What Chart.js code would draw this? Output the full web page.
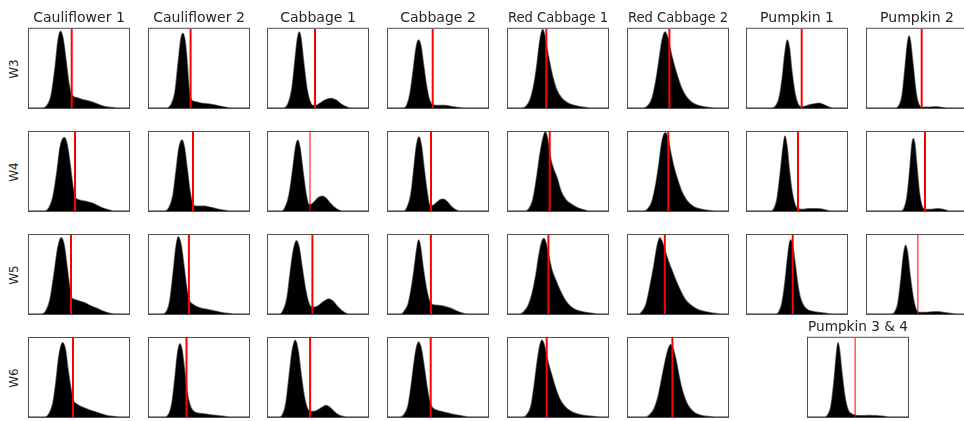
<!DOCTYPE html>
<html>
<head>
<meta charset="utf-8">
<script src="https://cdn.jsdelivr.net/npm/chart.js@4.4.1/dist/chart.umd.min.js"></script>
<style>
  html, body {
    margin: 0;
    padding: 0;
    background: #fff;
    width: 964px;
    height: 421px;
    overflow: hidden;
    position: relative;
    font-family: "DejaVu Sans", sans-serif;
  }
  canvas {
    position: absolute;
  }
  .row-label {
    position: absolute;
    font-size: 12px;
    color: #262626;
    white-space: nowrap;
    transform: translate(-50%, -50%) rotate(-90deg);
  }
</style>
</head>
<body>
<script>
// column titles, row labels and one density curve per panel
// curves are [x, y] pairs, x = position across the panel (0-100), y = height (0-100)

const columnTitles = [
  'Cauliflower 1', 'Cauliflower 2', 'Cabbage 1', 'Cabbage 2',
  'Red Cabbage 1', 'Red Cabbage 2', 'Pumpkin 1', 'Pumpkin 2'
]

const lastPanelTitle = 'Pumpkin 3 & 4'

const rowLabels = ['W3', 'W4', 'W5', 'W6']

const w3Curves = [
  [[0,0],[14,0],[18,3],[22,15],[26,50],[29,85],[31.5,97],[34,88],[37,60],[40,30],[43,16],[48,13],[55,10],[62,8],[68,5],[75,2],[82,0.5],[88,0],[100,0]],
  [[0,0],[18,0],[22,4],[26,20],[29,55],[32,88],[34,94],[36,85],[38,60],[40,25],[42,11],[46,8],[52,6],[60,5],[68,3],[76,1],[82,0],[100,0]],
  [[0,0],[16,0],[20,5],[24,25],[27,60],[29.5,88],[31.3,96],[33,88],[35.5,60],[38.5,28],[41.5,10],[45,3],[48,3],[52,6],[57,10],[63,12],[68,10],[73,5],[78,1.5],[82,0],[100,0]],
  [[0,0],[16,0],[19,4],[22,18],[25,45],[28,75],[30.5,86],[33,78],[35.5,55],[38.5,28],[41.5,10],[45,4],[50,3],[57,3],[63,2],[70,0.5],[75,0],[100,0]],
  [[0,0],[14,0],[18,2],[22,10],[26,30],[29,55],[31,77],[33,93],[34.7,99],[36.5,93],[39,75],[42,55],[45,38],[49,22],[54,12],[60,6],[67,3],[75,1],[82,0],[100,0]],
  [[0,0],[16,0],[20,3],[24,12],[28,35],[31,60],[34,85],[37,96],[40,88],[43,70],[46,55],[50,38],[54,24],[59,13],[65,6],[72,2.5],[80,0.5],[86,0],[100,0]],
  [[0,0],[26,0],[29,3],[32,12],[35,35],[38,70],[40.3,86],[42.5,75],[45,45],[48,18],[51,5],[54,1.5],[58,2],[63,4],[67,5],[72,6],[77,4],[82,1],[86,0],[100,0]],
  [[0,0],[29,0],[32,3],[35,15],[38,50],[40.5,82],[42,91],[43.5,84],[46,55],[49,20],[52,4],[55,1],[62,1],[69,1.5],[75,0.5],[80,0],[100,0]]
]

const w4Curves = [
  [[0,0],[16,0],[20,4],[24,18],[28,50],[31,80],[35.3,93],[38,85],[41,60],[44,30],[46,18],[50,14],[57,12],[63,10],[68,7],[73,4],[78,2],[85,0],[100,0]],
  [[0,0],[16,0],[20,4],[24,20],[27,50],[30,80],[33,90],[35.5,80],[38,55],[41,25],[44,8],[48,6],[55,6],[62,4.5],[68,2.5],[75,1],[80,0],[100,0]],
  [[0,0],[14,0],[17,4],[21,20],[25,55],[27.5,80],[29.8,89.5],[32,80],[35,50],[38,22],[41,8],[44,9],[48,14],[51,17.5],[54.6,18.6],[58,16],[62,10],[66,5],[70,1.5],[74,0],[100,0]],
  [[0,0],[16,0],[19,4],[23,22],[26,55],[28.5,83],[31.1,93.7],[33.5,82],[36,55],[39,25],[42,7],[45,7],[49,11],[52,14],[55.3,14.8],[59,12],[63,6],[67,2],[71,0],[100,0]],
  [[0,0],[17,0],[21,3],[25,15],[29,45],[32,72],[35,92],[37.3,100],[39.5,92],[42,70],[45,55],[49,42],[53,25],[58,14],[63,9],[68,5],[74,2],[82,0],[100,0]],
  [[0,0],[16,0],[20,3],[24,12],[28,35],[31,60],[34,88],[37.3,99],[40,92],[43,72],[46,55],[50,38],[54,24],[59,13],[65,6],[72,2.5],[80,0.5],[86,0],[100,0]],
  [[0,0],[24,0],[27,3],[30,15],[33,45],[36,80],[38,95],[40,82],[42.5,50],[45,25],[48,8],[51,3],[56,2],[62,3],[68,3],[74,2.5],[79,1],[84,0],[100,0]],
  [[0,0],[34,0],[37,3],[40,18],[43,55],[45,85],[46.3,91.5],[47.8,85],[50,55],[52.5,22],[55,6],[58,2],[63,2],[68,2.5],[72,3],[77,1.5],[82,0],[100,0]]
]

const w5Curves = [
  [[0,0],[13,0],[17,4],[21,18],[25,50],[29,85],[32.2,96.5],[35,88],[38,60],[40.5,35],[42,22],[46,18],[51,16],[56,14],[62,10],[68,7],[74,3.5],[80,1],[85,0],[100,0]],
  [[0,0],[14,0],[18,4],[21,18],[24,50],[27,85],[29.2,97.8],[32,88],[35,60],[38,30],[40,18],[44,12],[50,8],[57,6],[64,4],[72,2],[80,0.5],[85,0],[100,0]],
  [[0,0],[12,0],[15,4],[19,20],[22,50],[25,78],[28.4,92.8],[31,85],[34,60],[37,35],[40,17],[43,9],[47,8.5],[51,11],[56,16],[61,19],[65,16],[69,10],[73,5],[77,1.5],[80,0],[100,0]],
  [[0,0],[13,0],[16,3],[20,12],[23,30],[26,55],[28.5,80],[30.6,93.6],[32.5,85],[35,60],[38,35],[41,18],[43,13],[48,11],[53,10.6],[58,9],[63,7],[68,4],[73,1.5],[78,0],[100,0]],
  [[0,0],[12,0],[16,3],[20,10],[24,25],[28,50],[31,75],[34,92],[35.8,95.7],[38,90],[41,72],[44,55],[48,42],[52,30],[57,18],[62,10],[68,5],[75,2.5],[83,1],[90,0],[100,0]],
  [[0,0],[11,0],[14,3],[18,12],[22,35],[26,62],[29,85],[31.8,96.6],[34,92],[37,80],[40,68],[44,55],[48,42],[53,28],[58,17],[64,10],[70,5.5],[77,3],[85,1],[92,0],[100,0]],
  [[0,0],[29,0],[32,3],[35,14],[38,40],[40.5,70],[43.4,93.6],[45.5,88],[48,65],[50.5,40],[53,22],[56,12],[59,7],[63,4],[68,2.5],[74,1.5],[80,0.5],[85,0],[100,0]],
  [[0,0],[25,0],[28,3],[31,14],[34,45],[36.5,75],[38.6,87],[40.5,78],[43,50],[46,22],[49,6],[52,2],[58,2],[64,2.5],[70,3],[76,2],[82,1],[88,0],[100,0]]
]

// W6 has no Pumpkin 1 / 2, the last curve is Pumpkin 3 & 4
const w6Curves = [
  [[0,0],[16,0],[20,4],[24,18],[27,45],[30,78],[33.6,94],[36.5,85],[39,60],[42,35],[44,22],[48,16],[54,12],[60,9],[66,6.5],[72,4],[78,1.5],[85,0.5],[90,0],[100,0]],
  [[0,0],[16,0],[20,4],[23,18],[26,50],[28.5,80],[30.9,92.8],[33,85],[35.5,60],[38,32],[41,15],[44,8],[48,5],[54,4],[60,3],[67,2],[74,1],[80,0],[100,0]],
  [[0,0],[12,0],[15,4],[18,18],[21,50],[24,82],[27.3,97],[30,85],[33,55],[36,28],[39,12],[42,7],[46,7],[50,9],[54,12],[58,14.5],[62,12],[66,7],[70,3],[74,1],[78,0],[100,0]],
  [[0,0],[12,0],[16,3],[20,14],[23,38],[26,68],[28.5,88],[30.5,95],[33,88],[36,65],[39,38],[42,18],[45,11],[50,8],[56,6],[62,4],[68,2.5],[75,1],[80,0],[100,0]],
  [[0,0],[15,0],[19,3],[23,14],[26,38],[29,68],[31.5,88],[33.8,97],[36,92],[38.5,78],[41,65],[44,52],[48,35],[52,22],[57,13],[63,7],[70,3.5],[78,1.5],[86,0.5],[92,0],[100,0]],
  [[0,0],[18,0],[22,3],[26,10],[30,25],[34,50],[37.5,72],[40.5,87],[42.7,91.5],[45,87],[48,72],[51,52],[54,35],[58,20],[62,11],[67,5],[73,2],[80,0.5],[86,0],[100,0]],
  [[0,0],[17,0],[20,3],[23,14],[26,45],[28.5,80],[30,93.6],[31.5,85],[34,55],[37,25],[40,9],[44,3.5],[48,2],[55,1.5],[62,2],[68,1.5],[75,0.8],[82,0],[100,0]]
]

// red cut-off line per panel, same x units as the curves
const w3Cutoffs = [42.7, 41.6, 47, 44.7, 38.3, 41.4, 54.7, 54.7]
const w4Cutoffs = [46, 44, 42, 43, 41.7, 40.3, 51, 58]
const w5Cutoffs = [42, 39.9, 44.4, 42.9, 40.4, 36.8, 45.7, 50.9]
const w6Cutoffs = [44, 37.5, 42.1, 42.7, 38.7, 44.4, 47.1]

// ---- layout / style ----

const CHART_COLORS = {
  fill: '#000000',
  edge: 'rgba(0,0,0,0.55)',
  cutoff: '#ff0000',
  frame: '#505050',
  text: '#262626'
}

const BOX_W = 100
const BOX_H = 79
const PAD = 1
const TITLE_FONT = 14
const TITLE_PAD_BOTTOM = 2
const TITLE_H = TITLE_FONT * 1.2 + TITLE_PAD_BOTTOM

const BOX_LEFTS = [29, 148.7, 268.4, 388.1, 507.8, 627.5, 747.2, 866.9]
const BOX_TOPS = [29, 132, 235, 338]
const LAST_PANEL_LEFT = 808

// row / column of the thin red lines
const THIN_CUTOFFS = ['1-2', '2-7', '3-6']

const panelFrame = {
  id: 'panelFrame',
  afterDatasetsDraw(chart) {
    const { ctx, chartArea: a } = chart
    ctx.save()
    ctx.strokeStyle = CHART_COLORS.frame
    ctx.lineWidth = 1
    ctx.strokeRect(a.left - 0.5, a.top - 0.5, a.right - a.left + 1, a.bottom - a.top + 1)
    ctx.restore()
  }
}

function makePanel({ left, top, curve, cutoff, title, thin }) {

  const canvas = document.createElement('canvas')
  const titleH = title ? TITLE_H : 0

  canvas.width = BOX_W + 2 * PAD
  canvas.height = Math.round(BOX_H + 2 * PAD + titleH)
  canvas.style.left = (left - PAD) + 'px'
  canvas.style.top = Math.round(top - PAD - titleH) + 'px'

  document.body.appendChild(canvas)

  return new Chart(canvas, {
    type: 'line',
    data: {
      datasets: [
        {
          data: [{ x: cutoff, y: 0 }, { x: cutoff, y: 100 }],
          borderColor: CHART_COLORS.cutoff,
          borderWidth: thin ? 1 : 2,
          pointRadius: 0,
          fill: false
        },
        {
          data: curve.map(([x, y]) => ({ x, y })),
          borderColor: CHART_COLORS.edge,
          borderWidth: 1.5,
          backgroundColor: CHART_COLORS.fill,
          fill: 'origin',
          pointRadius: 0,
          cubicInterpolationMode: 'monotone'
        }
      ]
    },
    options: {
      responsive: false,
      animation: false,
      events: [],
      layout: { padding: PAD },
      plugins: {
        legend: { display: false },
        tooltip: { enabled: false },
        title: {
          display: !!title,
          text: title || '',
          color: CHART_COLORS.text,
          font: { family: 'DejaVu Sans', size: TITLE_FONT, weight: 'normal', lineHeight: 1.2 },
          padding: { top: 0, bottom: TITLE_PAD_BOTTOM }
        }
      },
      scales: {
        x: { type: 'linear', min: 0, max: 100, display: false },
        y: { type: 'linear', min: 0, max: 100, display: false }
      }
    },
    plugins: [panelFrame]
  })
}

const rows = [
  { curves: w3Curves, cutoffs: w3Cutoffs },
  { curves: w4Curves, cutoffs: w4Cutoffs },
  { curves: w5Curves, cutoffs: w5Cutoffs },
  { curves: w6Curves, cutoffs: w6Cutoffs }
]

rows.forEach((row, r) => {

  const label = document.createElement('div')
  label.className = 'row-label'
  label.textContent = rowLabels[r]
  label.style.left = '14px'
  label.style.top = (BOX_TOPS[r] + BOX_H / 2) + 'px'
  document.body.appendChild(label)

  row.curves.forEach((curve, c) => {

    const isLast = r === 3 && c === 6

    makePanel({
      left: isLast ? LAST_PANEL_LEFT : BOX_LEFTS[c],
      top: BOX_TOPS[r],
      curve,
      cutoff: row.cutoffs[c],
      title: isLast ? lastPanelTitle : (r === 0 ? columnTitles[c] : null),
      thin: THIN_CUTOFFS.includes(r + '-' + c)
    })

  })

})
</script>
</body>
</html>
